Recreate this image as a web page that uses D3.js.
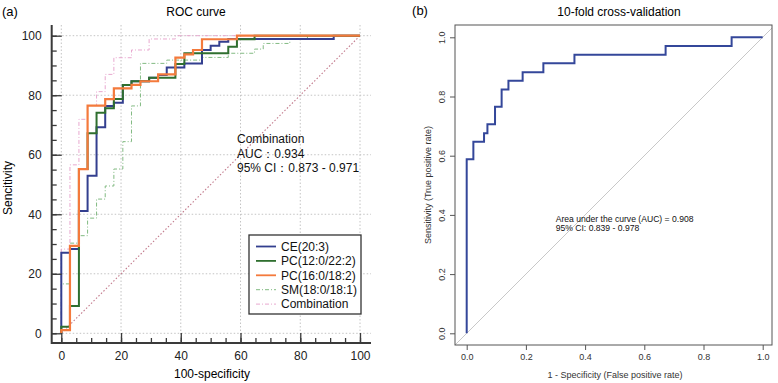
<!DOCTYPE html>
<html>
<head>
<meta charset="utf-8">
<script src="https://cdn.jsdelivr.net/npm/d3@7"></script>
<style>
  body { margin: 0; background: #fff; }
  svg { font-family: "Liberation Sans", Arial, sans-serif; }
</style>
</head>
<body>
<script>
// (a) ROC curves - 100-specificity / sensitivity, step points
let ceX = [0, 0, 2.9, 5.9, 8.8, 11.8, 14.7, 17.6, 20.6, 23.5, 29.4, 32.4, 35.3, 41.2, 47.1, 50, 52.9, 55.9, 91.2, 100]
let ceY = [0, 27.1, 28.3, 41.1, 52.9, 69.2, 76.4, 77.5, 83.4, 84.7, 85.9, 86.8, 89.3, 90.7, 95.2, 96.6, 98, 98.9, 100, 100]
let pc12X = [0, 0, 2.9, 5.9, 8.8, 11.8, 14.7, 17.6, 20.6, 23.5, 29.4, 38.2, 41.2, 55.9, 58.8, 64.7, 100]
let pc12Y = [0, 2.2, 9.2, 55.2, 67.2, 74.1, 75.6, 78.7, 83.4, 84.7, 85.9, 90.5, 94.1, 96.3, 98.8, 100, 100]
let pc16X = [0, 0, 2.9, 5.9, 8.8, 14.7, 17.6, 23.5, 26.5, 32.4, 38.2, 41.2, 44.1, 47.1, 58.8, 100]
let pc16Y = [0, 1.1, 29.4, 55.2, 76.5, 78.7, 82.3, 83.5, 84.7, 87.0, 92.6, 93.7, 95.2, 98.8, 100, 100]
let smX = [0, 0, 2.9, 5.9, 8.8, 11.8, 14.7, 17.6, 20.6, 23.5, 26.5, 35.3, 47.1, 55.9, 64.7, 67.6, 76.5, 82.4, 100]
let smY = [0, 16.6, 30.3, 32.8, 38.7, 45.1, 49.5, 55.2, 64.4, 76.4, 90.7, 91.8, 92.7, 94.1, 95.5, 97.4, 98.9, 100, 100]
let combX = [0, 0, 2.9, 5.9, 8.8, 11.8, 14.7, 17.6, 23.5, 29.4, 38.2, 100]
let combY = [0, 28.3, 56.6, 71.9, 76.5, 81.2, 87.0, 92.6, 95.2, 98.9, 100, 100]
let seriesNames = ['CE(20:3)', 'PC(12:0/22:2)', 'PC(16:0/18:2)', 'SM(18:0/18:1)', 'Combination']
let annotA = ['Combination', 'AUC：0.934', '95% CI：0.873 - 0.971']

// (b) 10-fold cross-validation
let cvX = [0, 0, 0.0225, 0.0586, 0.07, 0.0957, 0.118, 0.141, 0.189, 0.259, 0.364, 0.672, 0.895, 1.0]
let cvY = [0, 0.588, 0.647, 0.676, 0.706, 0.765, 0.824, 0.853, 0.882, 0.912, 0.941, 0.971, 1.0, 1.0]
let annotB = ['Area under the curve (AUC) = 0.908', '95% CI: 0.839 - 0.978']

let W = 778, H = 383
let svg = d3.select('body').append('svg').attr('width', W).attr('height', H)

// ---------- panel (a) ----------
let xA = d3.scaleLinear().domain([0, 100]).range([61.3, 360])
let yA = d3.scaleLinear().domain([0, 100]).range([333.3, 35.7])
let axLeft = 51.7, axBottom = 343, axTop = 25, axRight = 371

let gA = svg.append('g')

// grid
let majors = d3.range(0, 101, 20)
gA.append('g').selectAll('line').data(majors).enter().append('line')
  .attr('x1', axLeft).attr('x2', axRight)
  .attr('y1', d => yA(d)).attr('y2', d => yA(d))
  .attr('stroke', '#c4c4c4').attr('stroke-width', 1).attr('stroke-dasharray', '1.5,2')
gA.append('g').selectAll('line').data(majors).enter().append('line')
  .attr('x1', d => xA(d)).attr('x2', d => xA(d))
  .attr('y1', axTop).attr('y2', axBottom)
  .attr('stroke', '#c4c4c4').attr('stroke-width', 1).attr('stroke-dasharray', '1.5,2')

// diagonal
gA.append('line')
  .attr('x1', xA(0)).attr('y1', yA(0)).attr('x2', xA(100)).attr('y2', yA(100))
  .attr('stroke', '#c27a8c').attr('stroke-width', 1.1).attr('stroke-dasharray', '1.5,2')

// curves
let lineA = d3.line().x(d => xA(d[0])).y(d => yA(d[1])).curve(d3.curveStepAfter)
let seriesA = [
  { x: smX, y: smY, color: '#82ba82', w: 1, dash: '4,2,1,2' },
  { x: combX, y: combY, color: '#e8a8cf', w: 1, dash: '4,2,1,2' },
  { x: ceX, y: ceY, color: '#333f8f', w: 2, dash: null },
  { x: pc12X, y: pc12Y, color: '#2f6f2f', w: 2, dash: null },
  { x: pc16X, y: pc16Y, color: '#f47a3c', w: 2.2, dash: null }
]
seriesA.forEach(s => {
  gA.append('path')
    .attr('d', lineA(d3.zip(s.x, s.y)))
    .attr('fill', 'none')
    .attr('stroke', s.color)
    .attr('stroke-width', s.w)
    .attr('stroke-dasharray', s.dash)
})

// axes (ticks inward)
gA.append('g').attr('transform', 'translate(' + axLeft + ',0)')
  .call(d3.axisRight(yA).tickValues(d3.range(0, 101, 5)).tickSize(5).tickFormat(''))
  .call(g => g.select('.domain').remove())
gA.append('g').attr('transform', 'translate(' + axLeft + ',0)')
  .call(d3.axisRight(yA).tickValues(majors).tickSize(10).tickFormat(''))
  .call(g => g.select('.domain').remove())
gA.append('g').attr('transform', 'translate(' + axLeft + ',0)')
  .call(d3.axisLeft(yA).tickValues(majors).tickSize(0).tickPadding(10))
  .call(g => g.select('.domain').remove())
gA.append('g').attr('transform', 'translate(0,' + axBottom + ')')
  .call(d3.axisTop(xA).tickValues(d3.range(0, 101, 5)).tickSize(5).tickFormat(''))
  .call(g => g.select('.domain').remove())
gA.append('g').attr('transform', 'translate(0,' + axBottom + ')')
  .call(d3.axisTop(xA).tickValues(majors).tickSize(10).tickFormat(''))
  .call(g => g.select('.domain').remove())
gA.append('g').attr('transform', 'translate(0,' + axBottom + ')')
  .call(d3.axisBottom(xA).tickValues(majors).tickSize(0).tickPadding(8))
  .call(g => g.select('.domain').remove())
gA.selectAll('.tick line').attr('stroke', '#3a3a3a').attr('stroke-width', 1.3)
gA.selectAll('.tick text').attr('font-size', 12).attr('fill', '#222')
  .attr('font-family', '"Liberation Sans", Arial, sans-serif')

gA.append('path')
  .attr('d', 'M' + axLeft + ',' + axTop + 'V' + axBottom + 'H' + axRight)
  .attr('fill', 'none').attr('stroke', '#3a3a3a').attr('stroke-width', 2)

// titles
svg.append('text').attr('x', 2).attr('y', 16).attr('font-size', 13).text('(a)')
svg.append('text').attr('x', 196).attr('y', 16).attr('text-anchor', 'middle').attr('font-size', 12).text('ROC curve')
svg.append('text').attr('x', 212).attr('y', 378).attr('text-anchor', 'middle').attr('font-size', 12).text('100-specificity')
svg.append('text').attr('transform', 'translate(12,188) rotate(-90)').attr('text-anchor', 'middle')
  .attr('font-size', 12).text('Sencitivity')

// annotation
svg.append('g').selectAll('text').data(annotA).enter().append('text')
  .attr('x', 237).attr('y', (d, i) => 143 + i * 14.5)
  .attr('font-size', 12).attr('fill', '#111').text(d => d)

// legend
let lg = svg.append('g').attr('transform', 'translate(249,235)')
lg.append('rect').attr('width', 112).attr('height', 79)
  .attr('fill', '#fff').attr('stroke', '#333').attr('stroke-width', 1.3)
let legendStyle = [seriesA[2], seriesA[3], seriesA[4], seriesA[0], seriesA[1]]
seriesNames.forEach((name, i) => {
  let s = legendStyle[i]
  let yy = 11.5 + i * 14.4
  lg.append('line').attr('x1', 7).attr('x2', 27).attr('y1', yy).attr('y2', yy)
    .attr('stroke', s.color).attr('stroke-width', Math.min(s.w, 1.8)).attr('stroke-dasharray', s.dash)
  lg.append('text').attr('x', 32).attr('y', yy + 4.2).attr('font-size', 12).attr('fill', '#111').text(name)
})

// ---------- panel (b) ----------
let xB = d3.scaleLinear().domain([0, 1]).range([466.7, 762.7])
let yB = d3.scaleLinear().domain([0, 1]).range([333.3, 37.3])
let bL = 455, bR = 772, bT = 25, bB = 345
let gB = svg.append('g')

// diagonal clipped to box (spans corner to corner)
gB.append('line')
  .attr('x1', bL).attr('y1', yB(xB.invert(bL)))
  .attr('x2', bR).attr('y2', yB(xB.invert(bR)))
  .attr('stroke', '#c8c8c8').attr('stroke-width', 1)

let lineB = d3.line().x(d => xB(d[0])).y(d => yB(d[1])).curve(d3.curveStepAfter)
gB.append('path').attr('d', lineB(d3.zip(cvX, cvY)))
  .attr('fill', 'none').attr('stroke', '#34479a').attr('stroke-width', 2)

gB.append('rect').attr('x', bL).attr('y', bT).attr('width', bR - bL).attr('height', bB - bT)
  .attr('fill', 'none').attr('stroke', '#555').attr('stroke-width', 1)

let ticksB = d3.range(0, 1.01, 0.2)
gB.append('g').attr('transform', 'translate(0,' + bB + ')')
  .call(d3.axisBottom(xB).tickValues(ticksB).tickSize(5).tickPadding(4).tickFormat(d3.format('.1f')))
  .call(g => g.select('.domain').remove())
gB.append('g').attr('transform', 'translate(' + bL + ',0)')
  .call(d3.axisLeft(yB).tickValues(ticksB).tickSize(5).tickFormat(d3.format('.1f')))
  .call(g => g.select('.domain').remove())
  .call(g => g.selectAll('text').attr('x', 0).attr('dy', 0).attr('text-anchor', 'middle')
    .attr('transform', 'translate(-10,0) rotate(-90)'))
gB.selectAll('.tick line').attr('stroke', '#555')
gB.selectAll('.tick text').attr('font-size', 9).attr('fill', '#333')
  .attr('font-family', '"Liberation Sans", Arial, sans-serif')

svg.append('text').attr('x', 420).attr('y', 15).attr('text-anchor', 'middle').attr('font-size', 13).text('(b)')
svg.append('text').attr('x', 619).attr('y', 16).attr('text-anchor', 'middle').attr('font-size', 12).text('10-fold cross-validation')
svg.append('text').attr('x', 615).attr('y', 378).attr('text-anchor', 'middle').attr('font-size', 9)
  .attr('fill', '#333').text('1 - Specificity (False positive rate)')
svg.append('text').attr('transform', 'translate(431,185) rotate(-90)').attr('text-anchor', 'middle')
  .attr('font-size', 9).attr('fill', '#333').text('Sensitivity (True positive rate)')
svg.append('g').selectAll('text').data(annotB).enter().append('text')
  .attr('x', 555.7).attr('y', (d, i) => 222 + i * 9.3)
  .attr('font-size', 8.6).attr('fill', '#111').text(d => d)
</script>
</body>
</html>
